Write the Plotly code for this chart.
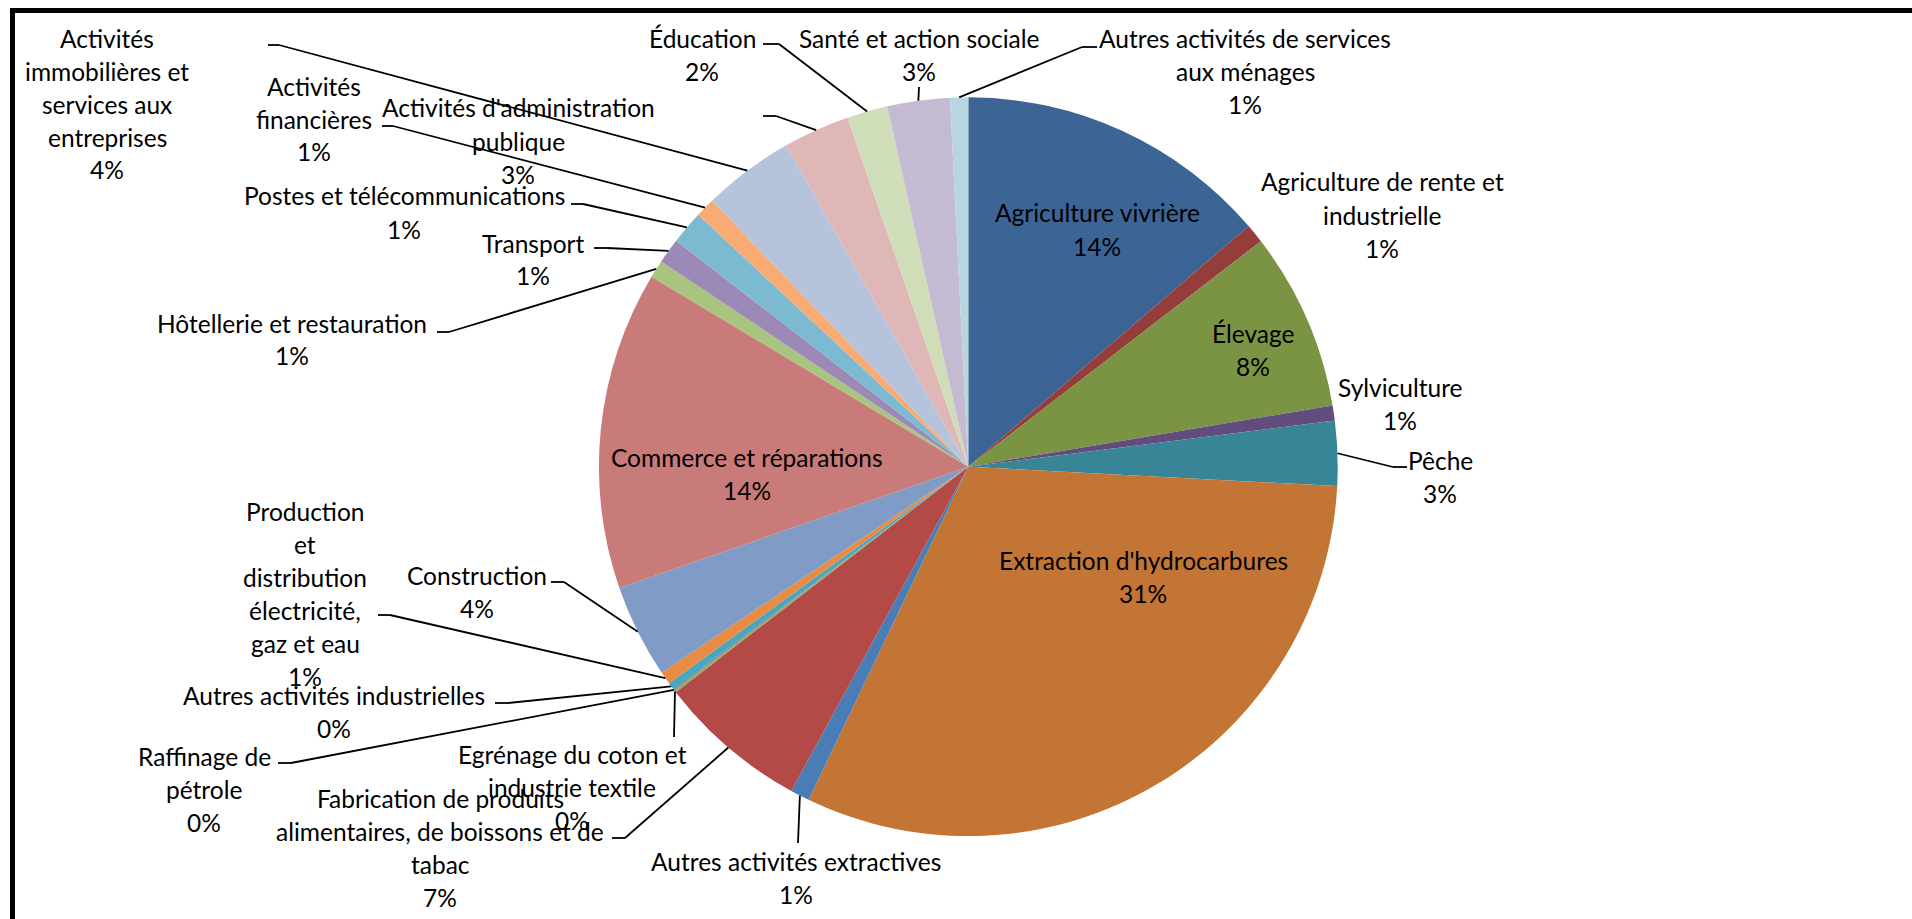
import plotly.graph_objects as go
import math

# ---- data -----------------------------------------------------------------
sectors = [
    "Agriculture vivrière",
    "Agriculture de rente et industrielle",
    "Élevage",
    "Sylviculture",
    "Pêche",
    "Extraction d'hydrocarbures",
    "Autres activités extractives",
    "Fabrication de produits alimentaires, de boissons et de tabac",
    "Egrénage du coton et industrie textile",
    "Raffinage de pétrole",
    "Autres activités industrielles",
    "Production et distribution électricité, gaz et eau",
    "Construction",
    "Commerce et réparations",
    "Hôtellerie et restauration",
    "Transport",
    "Postes et télécommunications",
    "Activités financières",
    "Activités immobilières et services aux entreprises",
    "Activités d'administration publique",
    "Éducation",
    "Santé et action sociale",
    "Autres activités de services aux ménages",
]

# share of value added (%)
shares = [
    13.72, 0.84, 7.80, 0.66, 2.83, 31.30, 0.84, 6.60, 0.10, 0.05, 0.33, 0.55,
    4.10, 13.93, 0.78, 1.10, 1.47, 0.85, 4.00, 2.90, 1.78, 2.74, 0.79,
]

# label text as wrapped on the chart (the percentage line is appended)
label_lines = [
    ["Agriculture vivrière"],
    ["Agriculture de rente et", "industrielle"],
    ["Élevage"],
    ["Sylviculture"],
    ["Pêche"],
    ["Extraction d'hydrocarbures"],
    ["Autres activités extractives"],
    ["Fabrication de produits", "alimentaires, de boissons et de", "tabac"],
    ["Egrénage du coton et", "industrie textile"],
    ["Raffinage de", "pétrole"],
    ["Autres activités industrielles"],
    ["Production", "et", "distribution", "électricité,", "gaz et eau"],
    ["Construction"],
    ["Commerce et réparations"],
    ["Hôtellerie et restauration"],
    ["Transport"],
    ["Postes et télécommunications"],
    ["Activités", "financières"],
    ["Activités", "immobilières et", "services aux", "entreprises"],
    ["Activités d'administration", "publique"],
    ["Éducation"],
    ["Santé et action sociale"],
    ["Autres activités de services", "aux ménages"],
]

colors = [
    "#3C6494", "#943D3B", "#7A9443", "#624C7E", "#378597", "#C27535",
    "#4A7DB5", "#B34A47", "#93B158", "#7E64A0", "#4AA5BE", "#E88B43",
    "#7F9BC6", "#C97B79", "#A9C47F", "#9D89B8", "#7BBAD0", "#F9AB74",
    "#B6C3DD", "#DFB7B6", "#D0DDB9", "#C4BAD1", "#B7D6E2",
]

# ---- layout geometry (pixels) ---------------------------------------------
W, H = 1912, 919
CX, CY, R = 968.3, 466.7, 369.4
LINE_H = 33
FONT = dict(family="Lato, 'Open Sans', sans-serif", size=24.5, color="#000000")

# label block: centre x, centre y of first line
label_pos = [
    (1097, 213), (1382, 182), (1253, 333), (1400, 387), (1440, 460),
    (1143, 560), (796, 861), (440, 798), (572, 754), (204, 756),
    (334, 695), (305, 511), (477, 575), (747, 457), (292, 323),
    (533, 243), (404, 196), (314, 86), (107, 38), (518, 108),
    (702, 38), (919, 38), (1245, 38),
]

# leader lines: (label-side x, y, elbow x) or None; the other end sits on the slice edge
leaders = {
    4: (1407, 467, 1393),
    6: (798, 843, 798),
    7: (612, 838, 625),
    8: (674, 737, 674),
    9: (278, 763, 291),
    10: (495, 703, 508),
    11: (378, 615, 390),
    12: (551, 582, 564),
    14: (437, 332, 449),
    15: (594, 248, 607),
    16: (571, 204, 583),
    17: (382, 126, 393),
    18: (268, 45, 279),
    19: (763, 116, 776),
    20: (763, 44, 779),
    21: (919, 87, 919),
    22: (1097, 47, 1082),
}


def px(x):
    return x / W


def py(y):
    return 1 - y / H


fig = go.Figure(
    go.Pie(
        labels=sectors,
        values=shares,
        sort=False,
        direction="clockwise",
        rotation=0,
        marker=dict(colors=colors, line=dict(width=0)),
        textinfo="none",
        hoverinfo="label+percent",
        showlegend=False,
        domain=dict(x=[px(CX - R), px(CX + R)], y=[py(CY + R), py(CY - R)]),
    )
)

total = sum(shares)
annotations = []
shapes = []
cum = 0.0
for i, v in enumerate(shares):
    pct = f"{round(100 * v / total):d}%"
    lines = label_lines[i] + [pct]
    lx, ly = label_pos[i]
    for k, t in enumerate(lines):
        annotations.append(dict(
            x=px(lx), y=py(ly + k * LINE_H), xref="paper", yref="paper",
            text=t, showarrow=False, xanchor="center", yanchor="middle",
            font=FONT,
        ))
    mid = math.radians(360 * (cum + v / 2) / total)
    cum += v
    if i in leaders:
        sx, sy, ex = leaders[i]
        edge_x = CX + R * math.sin(mid)
        edge_y = CY - R * math.cos(mid)
        pts = [(sx, sy), (ex, sy), (edge_x, edge_y)]
        for (x0, y0), (x1, y1) in zip(pts[:-1], pts[1:]):
            if abs(x0 - x1) < 0.1 and abs(y0 - y1) < 0.1:
                continue
            shapes.append(dict(
                type="line", xref="paper", yref="paper",
                x0=px(x0), y0=py(y0), x1=px(x1), y1=py(y1),
                line=dict(color="#000000", width=1.8),
            ))

# chart-area frame (top and left edges)
shapes.append(dict(type="line", xref="paper", yref="paper",
                   x0=px(10), y0=py(10.5), x1=1, y1=py(10.5),
                   line=dict(color="#000000", width=5)))
shapes.append(dict(type="line", xref="paper", yref="paper",
                   x0=px(12.5), y0=py(8), x1=px(12.5), y1=0,
                   line=dict(color="#000000", width=5)))

fig.update_layout(
    width=W, height=H,
    margin=dict(l=0, r=0, t=0, b=0),
    paper_bgcolor="#FFFFFF",
    plot_bgcolor="#FFFFFF",
    annotations=annotations,
    shapes=shapes,
)

fig.write_html("out.html")
